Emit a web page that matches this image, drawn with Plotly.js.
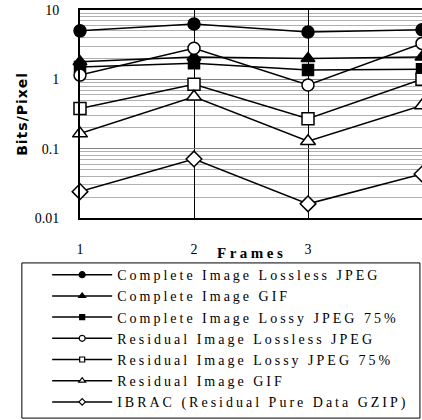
<!DOCTYPE html>
<html>
<head>
<meta charset="utf-8">
<script src="https://cdn.plot.ly/plotly-3.0.1.min.js"></script>
<style>
  html, body { margin: 0; padding: 0; background: #fff; }
  #chart { width: 422px; height: 420px; }
  .legendtext { letter-spacing: 3px; }
</style>
</head>
<body>
<div id="chart"></div>
<script>
const frames = [1, 2, 3, 4];

const seriesNames = [
  "Complete Image Lossless JPEG",
  "Complete Image GIF",
  "Complete Image Lossy JPEG 75%",
  "Residual Image Lossless JPEG",
  "Residual Image Lossy JPEG 75%",
  "Residual Image GIF",
  "IBRAC (Residual Pure Data GZIP)"
];

const completeLosslessJPEG = [5.0, 6.3, 4.8, 5.2];
const completeGIF          = [1.8, 2.1, 2.0, 2.1];
const completeLossyJPEG75  = [1.5, 1.7, 1.36, 1.4];
const residualLosslessJPEG = [1.15, 2.8, 0.83, 3.3];
const residualLossyJPEG75  = [0.38, 0.85, 0.27, 1.0];
const residualGIF          = [0.165, 0.56, 0.128, 0.42];
const ibracGZIP            = [0.024, 0.071, 0.016, 0.043];

const yTickVals = [0.01, 0.1, 1, 10];
const yTickText = ["0.01", "0.1", "1", "10"];
const xTickVals = [1, 2, 3];
const xTickText = ["1", "2", "3"];
const xTitle = "Frames";
const yTitle = "Bits/Pixel";

const seriesValues = [completeLosslessJPEG, completeGIF, completeLossyJPEG75,
  residualLosslessJPEG, residualLossyJPEG75, residualGIF, ibracGZIP];
const symbols = ["circle", "triangle-up", "square", "circle", "square", "triangle-up", "diamond"];
const fills = ["#000", "#000", "#000", "#fff", "#fff", "#fff", "#fff"];
const sizes = [12, 12, 11, 12, 12, 13, 12];
const legendSizes = [6, 6, 5, 6, 5, 6, 5];

const traces = seriesValues.map((vals, i) => ({
  type: "scatter",
  mode: "lines+markers",
  name: seriesNames[i],
  x: frames,
  y: vals,
  showlegend: false,
  cliponaxis: false,
  line: { color: "#000", width: 1.5 },
  marker: { symbol: symbols[i], size: sizes[i], color: fills[i], line: { color: "#000", width: 1.5 } }
}));

// legend entries (same series, smaller legend symbols)
const legendTraces = seriesNames.map((nm, i) => ({
  type: "scatter",
  mode: "lines+markers",
  name: nm,
  x: [null],
  y: [null],
  legendgroup: "g" + i,
  showlegend: true,
  line: { color: "#000", width: 1.5 },
  marker: { symbol: symbols[i], size: legendSizes[i], color: fills[i], line: { color: "#000", width: 1.2 } }
}));

const layout = {
  width: 422,
  height: 420,
  margin: { l: 80, r: 0, t: 10, b: 202 },
  paper_bgcolor: "#fff",
  plot_bgcolor: "#fff",
  showlegend: true,
  font: { family: "Liberation Serif, serif", size: 14, color: "#000" },
  xaxis: {
    range: [1, 4],
    tickvals: xTickVals,
    ticktext: xTickText,
    showgrid: true,
    gridcolor: "#000",
    gridwidth: 1,
    zeroline: false,
    showline: true,
    linecolor: "#000",
    linewidth: 2,
    mirror: true,
    ticks: "",
    ticklabelstandoff: 17,
    tickfont: { family: "Liberation Serif, serif", size: 14 }
  },
  yaxis: {
    type: "log",
    range: [-2, 1],
    tickvals: yTickVals,
    ticktext: yTickText,
    showgrid: true,
    gridcolor: "#808080",
    gridwidth: 1,
    minor: { dtick: "D1", showgrid: true, gridcolor: "#b0b0b0", gridwidth: 1 },
    zeroline: false,
    showline: true,
    linecolor: "#000",
    linewidth: 2,
    ticks: "",
    ticklabelstandoff: 16,
    tickfont: { family: "Liberation Serif, serif", size: 14 }
  },
  legend: {
    x: -0.096,
    xanchor: "left",
    y: -0.1975,
    yanchor: "top",
    bgcolor: "rgba(0,0,0,0)",
    borderwidth: 0,
    itemwidth: 60,
    traceorder: "grouped",
    tracegroupgap: 0,
    font: { family: "Liberation Serif, serif", size: 14, color: "#000" }
  },
  annotations: [
    {
      xref: "paper", yref: "paper", x: 0.5, y: -0.168,
      xanchor: "center", yanchor: "middle", showarrow: false,
      text: '<span style="letter-spacing:3.5px">' + xTitle + '</span>',
      font: { family: "Liberation Serif, serif", size: 15, weight: "bold", color: "#000" }
    },
    {
      xref: "paper", yref: "paper", x: -0.170, y: 0.5,
      xanchor: "center", yanchor: "middle", showarrow: false, textangle: -90,
      text: '<span style="letter-spacing:1px">' + yTitle + '</span>',
      font: { family: "DejaVu Sans, sans-serif", size: 14, weight: "bold", color: "#000" }
    }
  ],
  shapes: [{
    type: "rect", xref: "paper", yref: "paper",
    x0: -0.170, x1: 0.994, y0: -0.216, y1: -0.962,
    line: { color: "#000", width: 1 }, fillcolor: "rgba(0,0,0,0)"
  }]
};

Plotly.newPlot("chart", traces.concat(legendTraces), layout, { displayModeBar: false, staticPlot: true });
</script>
</body>
</html>
